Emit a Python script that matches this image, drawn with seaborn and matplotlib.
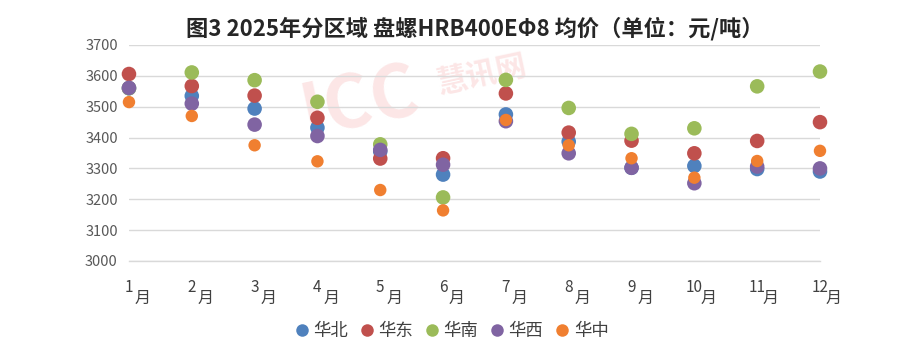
import seaborn as sns
import matplotlib.pyplot as plt
import matplotlib.transforms as mtransforms
from matplotlib.lines import Line2D
import pandas as pd

sns.set_style('white')
plt.rcParams['font.family'] = ['Noto Sans CJK SC', 'DejaVu Sans']

months = list(range(1, 13))
regions = ['华北', '华东', '华南', '华西', '华中']
huabei = [3560, 3535, 3494, 3432, 3355, 3280, 3475, 3387, 3302, 3308, 3298, 3290]
huadong = [3606, 3567, 3536, 3464, 3332, 3333, 3543, 3416, 3390, 3349, 3389, 3450]
huanan = [3560, 3611, 3586, 3516, 3378, 3206, 3587, 3496, 3412, 3430, 3566, 3614]
huaxi = [3561, 3510, 3442, 3405, 3360, 3312, 3453, 3349, 3302, 3252, 3306, 3300]
huazhong = [3515, 3470, 3375, 3323, 3230, 3164, 3457, 3375, 3333, 3270, 3324, 3357]
colors = ['#4F81BD', '#C0504D', '#9BBB59', '#8064A2', '#F07F30']
yticks = [3000, 3100, 3200, 3300, 3400, 3500, 3600, 3700]

rows = []
for name, vals in zip(regions, [huabei, huadong, huanan, huaxi, huazhong]):
    for i, v in enumerate(vals):
        rows.append({'idx': i, 'price': v, 'region': name})
df = pd.DataFrame(rows)

fig = plt.figure(figsize=(9, 3.56), dpi=100)
ax = fig.add_axes([0.1433, 0.2669, 0.7678, 0.6067])

# faint watermark, kept behind the axes
fig.text(0.40, 0.71, 'ICC', fontsize=52, fontweight='bold', color='#FCE6E6',
         rotation=12, ha='center', va='center', zorder=-5, style='italic')
fig.text(0.535, 0.79, '慧讯网', fontsize=22, fontweight='bold', color='#FCE6E6',
         rotation=12, ha='center', va='center', zorder=-5)

sns.scatterplot(data=df, x='idx', y='price', hue='region', palette=dict(zip(regions, colors)),
                size='region', sizes={'华北': 110, '华东': 110, '华南': 110, '华西': 110, '华中': 80},
                linewidth=0, alpha=1, legend=False, clip_on=False, zorder=3, ax=ax)

ax.set_xlim(0, 11)
ax.set_ylim(3000, 3700)
ax.set_yticks(yticks)
ax.set_yticklabels([str(t) for t in yticks], fontsize=10.5, color='#595959')
ax.yaxis.grid(True, color='#D9D9D9', linewidth=1)
ax.set_axisbelow(True)
ax.patch.set_alpha(0)
for s in ['top', 'right', 'left']:
    ax.spines[s].set_visible(False)
ax.spines['bottom'].set_color('#D9D9D9')
ax.spines['bottom'].set_linewidth(1)
ax.tick_params(axis='y', length=0, pad=8)
ax.set_xticks(range(12))
ax.set_xticklabels([])
ax.tick_params(axis='x', length=5, color='#D9D9D9', width=1)
ax.set_xlabel('')
ax.set_ylabel('')

# month labels: number then 月 offset down-right
trans = mtransforms.blended_transform_factory(ax.transData, ax.transAxes)
for i, m in enumerate(months):
    off1 = mtransforms.offset_copy(trans, fig=fig, x=0, y=-19, units='points')
    off2 = mtransforms.offset_copy(trans, fig=fig, x=10, y=-27, units='points')
    ax.text(i, 0, str(m), transform=off1, ha='center', va='center', fontsize=11, color='#404040')
    ax.text(i, 0, '月', transform=off2, ha='center', va='center', fontsize=11.5, color='#404040')

ax.set_title('图3 2025年分区域 盘螺HRB400EΦ8 均价（单位：元/吨）', fontsize=16, fontweight='bold',
             color='#262626', pad=7)

handles = [Line2D([], [], marker='o', linestyle='', markersize=9, markerfacecolor=c,
                  markeredgewidth=0) for c in colors]
fig.legend(handles, regions, loc='center', bbox_to_anchor=(0.5, 0.07), ncol=5, frameon=False,
           fontsize=12.5, handletextpad=0.05, columnspacing=0.5, handlelength=1.2,
           labelcolor='#404040')

fig.savefig('out.png', dpi=100)
